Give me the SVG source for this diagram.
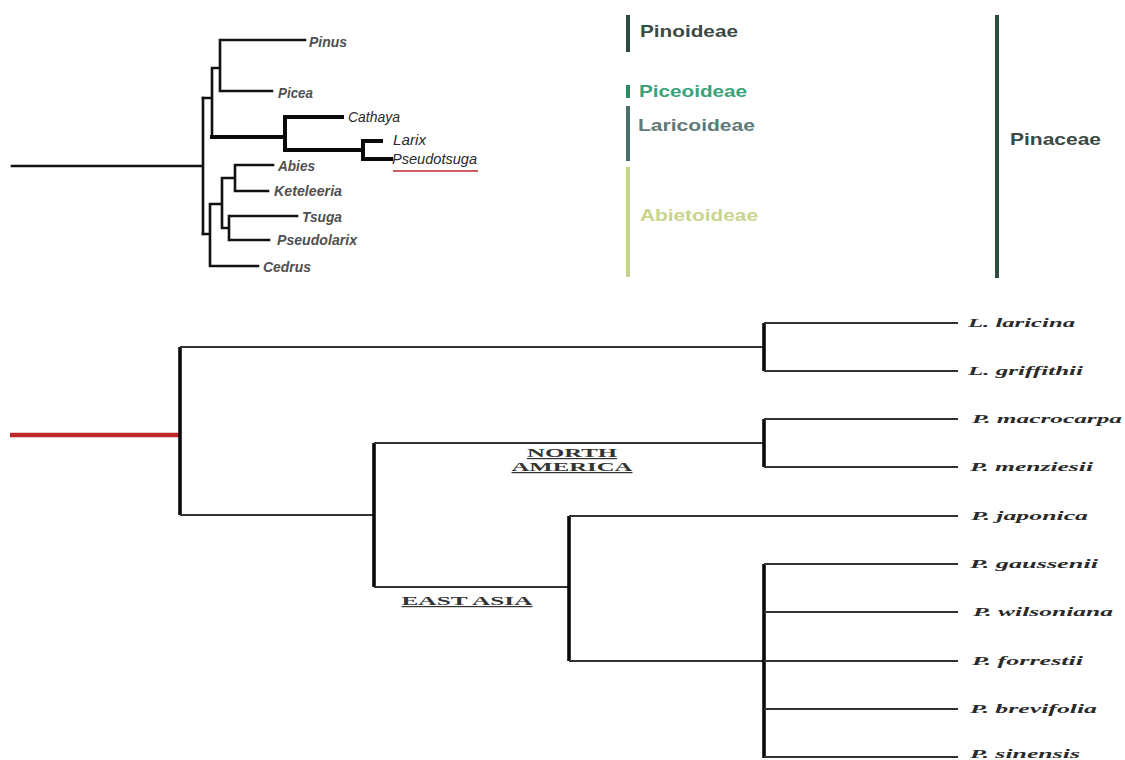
<svg xmlns="http://www.w3.org/2000/svg" width="1125" height="760" viewBox="0 0 1125 760">
<style>
.bg{fill:#ffffff}
.t1{stroke:#111;stroke-width:2.6;fill:none;stroke-linecap:square}
.t1b{stroke:#0a0a0a;stroke-width:4;fill:none;stroke-linecap:square}
.h2{stroke:#333;stroke-width:2;fill:none}
.v2{stroke:#0a0a0a;stroke-width:3.6;fill:none}
.tax{font-family:"Liberation Sans",Arial,sans-serif;font-size:14.5px;font-weight:bold;font-style:italic;fill:#505050}
.tax2{font-family:"Liberation Sans",Arial,sans-serif;font-size:15px;font-style:italic;fill:#2a2a2a}
.grp{font-family:"Liberation Sans",Arial,sans-serif;font-size:16.5px;font-weight:bold}
.sp{font-family:"Liberation Serif","Times New Roman",serif;font-size:12px;font-weight:bold;font-style:italic;fill:#2a2a2a}
.reg{font-family:"Liberation Serif","Times New Roman",serif;font-size:12px;font-weight:bold;fill:#333;text-decoration:underline}
</style>
<rect class="bg" x="0" y="0" width="1125" height="760"/>

<g id="connectors">
  <!-- top tree -->
  <path class="t1" d="M12 166 H203 M203 98 V234"/>
  <path class="t1" d="M203 98 H212 M212 68 V137 M212 68 H220 M220 40 V91 M220 40 H305 M220 91 H272"/>
  <path class="t1b" d="M212 137 H285 M285 117 V150 M285 117 H342 M285 150 H363 M363 141 V159 M363 141 H381 M363 159 H391"/>
  <path class="t1" d="M203 234 H210 M210 204 V266 M210 266 H258 M210 204 H222 M222 178 V228 M222 178 H235 M235 165 V191 M235 165 H273 M235 191 H268 M222 228 H229 M229 216 V240 M229 216 H297 M229 240 H269"/>
  <!-- bottom tree -->
  <line x1="10" y1="435" x2="180" y2="435" stroke="#c0272d" stroke-width="4.5"/>
  <path class="v2" d="M180 347 V515"/>
  <path class="h2" d="M180 347 H764 M180 515 H374"/>
  <path class="v2" d="M764 323 V371"/>
  <path class="h2" d="M764 323 H958 M764 371 H958"/>
  <path class="v2" d="M374 443 V587"/>
  <path class="h2" d="M374 443 H764 M374 587 H569"/>
  <path class="v2" d="M764 419 V467"/>
  <path class="h2" d="M764 419 H958 M764 467 H958"/>
  <path class="v2" d="M569 516 V661"/>
  <path class="h2" d="M569 516 H958 M569 661 H764"/>
  <path class="v2" d="M764 564 V758"/>
  <path class="h2" d="M764 564 H958 M764 612 H958 M764 661 H958 M764 709 H958 M764 757 H958"/>
</g>

<!-- top tree taxa -->
<g id="pinus"><text class="tax" x="309" y="47" textLength="38" lengthAdjust="spacingAndGlyphs">Pinus</text></g>
<g id="picea"><text class="tax" x="278" y="98" textLength="35" lengthAdjust="spacingAndGlyphs">Picea</text></g>
<g id="cathaya"><text class="tax2" x="348" y="122" textLength="52" lengthAdjust="spacingAndGlyphs">Cathaya</text></g>
<g id="larix"><text class="tax2" x="393" y="145" textLength="33" lengthAdjust="spacingAndGlyphs">Larix</text></g>
<g id="pseudotsuga"><text class="tax2" x="392" y="164" textLength="85" lengthAdjust="spacingAndGlyphs">Pseudotsuga</text>
  <line x1="393" y1="171" x2="478" y2="171" stroke="#c0272d" stroke-width="1.6"/></g>
<g id="abies"><text class="tax" x="278" y="171" textLength="37" lengthAdjust="spacingAndGlyphs">Abies</text></g>
<g id="keteleeria"><text class="tax" x="274" y="196" textLength="68" lengthAdjust="spacingAndGlyphs">Keteleeria</text></g>
<g id="tsuga"><text class="tax" x="302" y="222" textLength="40" lengthAdjust="spacingAndGlyphs">Tsuga</text></g>
<g id="pseudolarix"><text class="tax" x="277" y="245" textLength="80" lengthAdjust="spacingAndGlyphs">Pseudolarix</text></g>
<g id="cedrus"><text class="tax" x="263" y="272" textLength="48" lengthAdjust="spacingAndGlyphs">Cedrus</text></g>

<!-- subfamily bars -->
<g id="pinoideae"><rect x="626" y="15" width="4" height="37" fill="#2d4a3e"/>
  <text class="grp" x="640" y="37" fill="#3d4a44" textLength="98" lengthAdjust="spacingAndGlyphs">Pinoideae</text></g>
<g id="piceoideae"><rect x="626" y="85" width="4" height="13" fill="#2e8a60"/>
  <text class="grp" x="639" y="97" fill="#3aa37a" textLength="108" lengthAdjust="spacingAndGlyphs">Piceoideae</text></g>
<g id="laricoideae"><rect x="626" y="106" width="4" height="55" fill="#4a6e6a"/>
  <text class="grp" x="638" y="131" fill="#5f7a78" textLength="117" lengthAdjust="spacingAndGlyphs">Laricoideae</text></g>
<g id="abietoideae"><rect x="626" y="167" width="4" height="110" fill="#c3d58a"/>
  <text class="grp" x="640" y="221" fill="#c9d48c" textLength="118" lengthAdjust="spacingAndGlyphs">Abietoideae</text></g>
<g id="pinaceae"><rect x="995" y="15" width="4" height="263" fill="#2f4d3e"/>
  <text class="grp" x="1010" y="145" fill="#3b4a42" textLength="91" lengthAdjust="spacingAndGlyphs">Pinaceae</text></g>

<!-- bottom tree labels -->
<g id="north-america"><text class="reg" x="572" y="457" text-anchor="middle" textLength="90" lengthAdjust="spacingAndGlyphs">NORTH</text>
  <text class="reg" x="572" y="471" text-anchor="middle" textLength="121" lengthAdjust="spacingAndGlyphs">AMERICA</text></g>
<g id="east-asia"><text class="reg" x="467" y="605" text-anchor="middle" textLength="131" lengthAdjust="spacingAndGlyphs">EAST ASIA</text></g>

<g id="l-laricina"><text class="sp" x="968" y="327" textLength="107" lengthAdjust="spacingAndGlyphs">L. laricina</text></g>
<g id="l-griffithii"><text class="sp" x="968" y="375" textLength="115" lengthAdjust="spacingAndGlyphs">L. griffithii</text></g>
<g id="p-macrocarpa"><text class="sp" x="972" y="423" textLength="150" lengthAdjust="spacingAndGlyphs">P. macrocarpa</text></g>
<g id="p-menziesii"><text class="sp" x="970" y="471" textLength="123" lengthAdjust="spacingAndGlyphs">P. menziesii</text></g>
<g id="p-japonica"><text class="sp" x="971" y="520" textLength="117" lengthAdjust="spacingAndGlyphs">P. japonica</text></g>
<g id="p-gaussenii"><text class="sp" x="970" y="568" textLength="128" lengthAdjust="spacingAndGlyphs">P. gaussenii</text></g>
<g id="p-wilsoniana"><text class="sp" x="973" y="616" textLength="140" lengthAdjust="spacingAndGlyphs">P. wilsoniana</text></g>
<g id="p-forrestii"><text class="sp" x="972" y="665" textLength="111" lengthAdjust="spacingAndGlyphs">P. forrestii</text></g>
<g id="p-brevifolia"><text class="sp" x="970" y="713" textLength="127" lengthAdjust="spacingAndGlyphs">P. brevifolia</text></g>
<g id="p-sinensis"><text class="sp" x="970" y="758" textLength="110" lengthAdjust="spacingAndGlyphs">P. sinensis</text></g>
</svg>
